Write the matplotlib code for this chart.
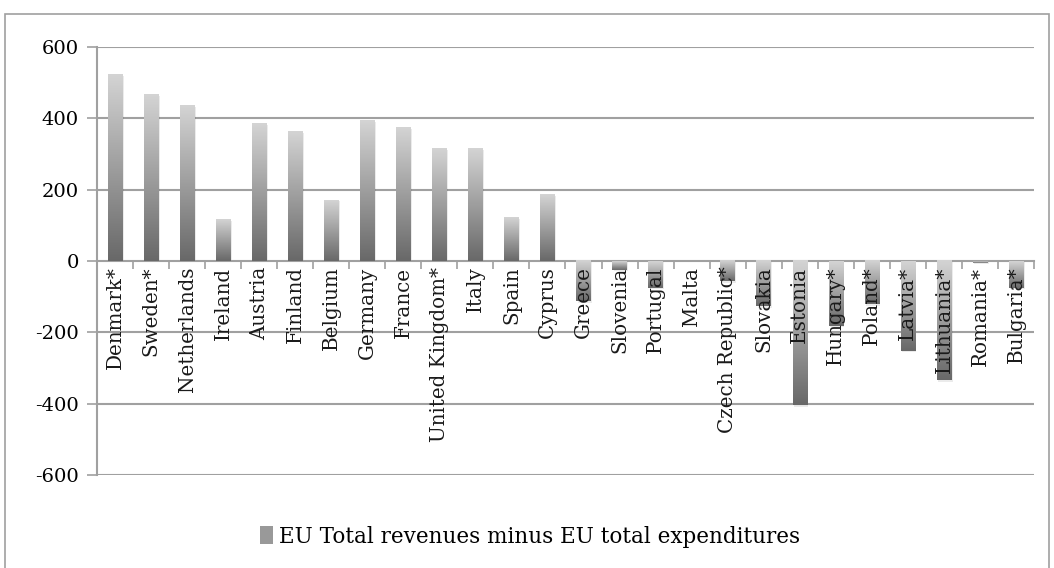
import numpy as np
import matplotlib
matplotlib.use("Agg")
import matplotlib.pyplot as plt
from matplotlib.colors import LinearSegmentedColormap
from matplotlib.patches import Patch, Rectangle

countries = ["Denmark*", "Sweden*", "Netherlands", "Ireland", "Austria", "Finland",
             "Belgium", "Germany", "France", "United Kingdom*", "Italy", "Spain",
             "Cyprus", "Greece", "Slovenia", "Portugal", "Malta", "Czech Republic*",
             "Slovakia", "Estonia", "Hungary*", "Poland*", "Latvia*", "Lithuania*",
             "Romania*", "Bulgaria*"]
net_balance = [522, 466, 435, 116, 385, 363, 171, 394, 375, 315, 315, 122,
               187, -113, -25, -75, 0, -57, -127, -405, -182, -122, -252, -335,
               -5, -75]
y_ticks = [-600, -400, -200, 0, 200, 400, 600]
legend_label = "EU Total revenues minus EU total expenditures"

plt.rcParams["font.family"] = "DejaVu Serif"
grid_col = "#a0a0a0"

fig = plt.figure(figsize=(10.54, 5.68), dpi=100)
ax = fig.add_axes([0.092, 0.164, 0.889, 0.753])

# outer chart frame like the spreadsheet export
fig.patches.append(Rectangle((0.005, -0.01), 0.99, 0.985, transform=fig.transFigure,
                             fill=False, edgecolor=grid_col, linewidth=1.2))

x = np.arange(len(countries))
bars = ax.bar(x, net_balance, width=0.4, color="none", edgecolor="none", zorder=3)

# gradient fill, light at top, dark at bottom
cmap = LinearSegmentedColormap.from_list("bar_grey", ["#686868", "#d4d4d4"])
grad = np.linspace(0, 1, 256).reshape(-1, 1)
for b in bars:
    x0 = b.get_x()
    w = b.get_width()
    y0 = min(b.get_y(), b.get_y() + b.get_height())
    y1 = max(b.get_y(), b.get_y() + b.get_height())
    if y1 - y0 < 1e-9:
        continue
    # soft shadow
    ax.add_patch(Rectangle((x0 + 0.04, y0 - 4), w, y1 - y0, color="#000000",
                           alpha=0.08, linewidth=0, zorder=2))
    ax.imshow(grad, extent=[x0, x0 + w, y0, y1], origin="lower", cmap=cmap,
              aspect="auto", zorder=3, interpolation="bicubic")

ax.set_xlim(-0.5, len(countries) - 0.5)
ax.set_ylim(-600, 600)
ax.set_yticks(y_ticks)
ax.set_yticklabels([str(v) for v in y_ticks], fontsize=14)
ax.tick_params(axis="y", length=7, width=1.2, color=grid_col, pad=6)

for v in y_ticks:
    if v != 0:
        ax.axhline(v, color=grid_col, linewidth=1.5, zorder=1)

for s in ["top", "right"]:
    ax.spines[s].set_visible(False)
ax.spines["left"].set_color(grid_col)
ax.spines["left"].set_linewidth(1.5)
ax.spines["bottom"].set_position(("data", 0))
ax.spines["bottom"].set_color(grid_col)
ax.spines["bottom"].set_linewidth(1.5)
ax.set_xticks(np.arange(len(countries) + 1) - 0.5)
ax.set_xticklabels([])
ax.tick_params(axis="x", length=6, width=1.2, color=grid_col, direction="out")

for i, name in enumerate(countries):
    ax.annotate(name, xy=(i, 0), xytext=(0, -4), textcoords="offset points",
                rotation=90, ha="center", va="top", fontsize=14.3,
                color="#1a1a1a", zorder=6)

handle = Patch(facecolor="#999999", edgecolor="none")
fig.legend([handle], [legend_label], loc="center", bbox_to_anchor=(0.503, 0.055),
           frameon=False, fontsize=15.5, handlelength=0.6, handleheight=0.9,
           handletextpad=0.3)

fig.savefig("out.png", dpi=100)
